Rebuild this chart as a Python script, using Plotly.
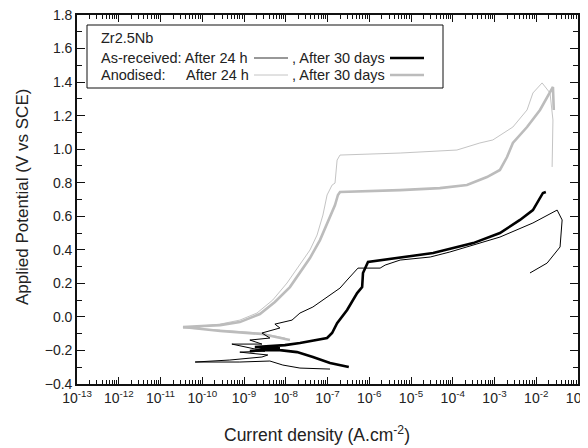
import numpy as np
import plotly.graph_objects as go

# ---- data (log10 current density, potential V vs SCE) ----
anod_24h_logi = [-8.02, -8.62, -9.57, -10.46, -9.57, -9.10, -8.69, -8.31, -7.97, -7.66, -7.42,
                 -7.25, -7.11, -7.01, -6.89, -6.82, -6.77, -6.70, -5.26, -3.90, -3.35, -3.04,
                 -2.56, -2.22, -2.08, -1.86, -1.67, -1.60, -1.62]
anod_24h_v = [-0.126, -0.096, -0.078, -0.066, -0.043, -0.019, 0.023, 0.101, 0.202, 0.309, 0.399,
              0.488, 0.607, 0.727, 0.786, 0.798, 0.935, 0.965, 0.977, 0.995, 1.037, 1.055,
              1.132, 1.234, 1.335, 1.395, 1.335, 1.174, 0.894]

anod_30d_logi = [-7.90, -8.57, -9.57, -10.46, -9.57, -9.10, -8.62, -8.26, -7.90, -7.66, -7.42,
                 -7.18, -6.99, -6.82, -6.75, -6.70, -5.26, -4.31, -3.66, -3.18, -2.87, -2.70,
                 -2.56, -2.22, -1.91, -1.67, -1.60, -1.58]
anod_30d_v = [-0.138, -0.102, -0.084, -0.060, -0.049, -0.031, 0.017, 0.089, 0.178, 0.267, 0.351,
              0.458, 0.566, 0.667, 0.727, 0.745, 0.756, 0.768, 0.786, 0.834, 0.876, 0.953,
              1.037, 1.132, 1.234, 1.335, 1.371, 1.234]

asr_24h_logi = [-6.94, -7.66, -8.07, -8.38, -9.10, -10.17, -9.34, -8.57, -8.43, -9.10, -8.50,
                -9.29, -8.57, -8.86, -8.38, -8.57, -8.14, -8.26, -7.85, -7.66, -7.35, -7.18,
                -6.87, -6.70, -6.53, -6.27, -5.74, -5.62, -5.26, -4.54, -4.07, -3.51, -2.87,
                -2.08, -1.50, -1.38, -1.43, -1.74, -2.15]
asr_24h_v = [-0.311, -0.305, -0.287, -0.263, -0.269, -0.269, -0.257, -0.239, -0.227, -0.210, -0.204,
             -0.162, -0.162, -0.138, -0.126, -0.096, -0.066, -0.043, -0.019, 0.023, 0.059, 0.089,
             0.142, 0.172, 0.220, 0.291, 0.291, 0.309, 0.339, 0.357, 0.387, 0.428, 0.476,
             0.560, 0.637, 0.578, 0.417, 0.321, 0.262]

asr_30d_logi = [-6.49, -6.94, -7.35, -7.73, -8.14, -8.57, -8.86, -8.14, -8.74, -8.02, -7.66,
                -7.30, -7.01, -6.89, -6.77, -6.53, -6.29, -6.17, -6.15, -6.03, -5.67, -4.47,
                -3.51, -2.87, -2.39, -2.08, -1.84, -1.77]
asr_30d_v = [-0.299, -0.275, -0.239, -0.210, -0.198, -0.198, -0.204, -0.186, -0.180, -0.168, -0.156,
             -0.138, -0.126, -0.096, -0.037, 0.041, 0.142, 0.178, 0.262, 0.327, 0.339, 0.381,
             0.440, 0.500, 0.578, 0.637, 0.739, 0.745]

x_decades = list(range(-13, 0))
x_tick_labels = [f"10<sup>{d}</sup>" for d in x_decades]
y_ticks = [-0.4, -0.2, 0.0, 0.2, 0.4, 0.6, 0.8, 1.0, 1.2, 1.4, 1.6, 1.8]
y_tick_labels = [f"{v:.1f}".replace("-", "\u2212") for v in y_ticks]

FONT = "Liberation Sans, Arial, sans-serif"
GRAY_THIN = "#c4c4c4"
GRAY_THICK = "#bcbcbc"

fig = go.Figure()
series = [
    (anod_24h_logi, anod_24h_v, GRAY_THIN, 1.0),
    (anod_30d_logi, anod_30d_v, GRAY_THICK, 2.6),
    (asr_24h_logi, asr_24h_v, "#000000", 1.0),
    (asr_30d_logi, asr_30d_v, "#000000", 2.6),
]
for lx, vy, col, w in series:
    fig.add_trace(go.Scatter(x=10 ** np.array(lx), y=vy, mode="lines",
                             line=dict(color=col, width=w), showlegend=False))

minor_x = [k * 10.0 ** d for d in range(-13, -1) for k in range(2, 10)]

fig.update_xaxes(type="log", range=[-13, -1], automargin=False, ticklabeloverflow="allow",
                 tickvals=[10.0 ** d for d in x_decades], ticktext=x_tick_labels,
                 ticks="inside", ticklen=7, tickwidth=1, tickcolor="#111",
                 minor=dict(tickvals=minor_x, ticks="inside", ticklen=4, tickcolor="#111"),
                 showline=True, linecolor="#111", linewidth=1.6, mirror="ticks",
                 showgrid=False, zeroline=False,
                 tickfont=dict(family=FONT, size=14, color="#222"))
fig.update_yaxes(range=[-0.4, 1.8], tickvals=y_ticks, ticktext=y_tick_labels,
                 automargin=False, ticklabeloverflow="allow",
                 ticks="inside", ticklen=8, tickwidth=1, tickcolor="#111",
                 minor=dict(dtick=0.1, ticks="inside", ticklen=5, tickcolor="#111"),
                 showline=True, linecolor="#111", linewidth=1.6, mirror="ticks",
                 showgrid=False, zeroline=False,
                 tickfont=dict(family=FONT, size=14, color="#222"))

# ---- page offset (the page body adds ~8 px) ----
OFF = 8
W, H = 588 - OFF, 448 - OFF
# plot area in window pixels
L, R, T, B = 77, 578, 15, 384
def px(x):
    return (x - L) / (R - L)
def py(y):
    return (B - y) / (B - T)

shapes = [dict(type="rect", xref="paper", yref="paper", x0=px(87), x1=px(443),
               y0=py(88), y1=py(25), line=dict(color="#111", width=1), fillcolor="white")]
samples = [(254, 288, 58, "#333", 1.2), (390, 424, 58, "#000", 2.6),
           (254, 288, 75, GRAY_THIN, 1.0), (390, 424, 75, GRAY_THICK, 2.6)]
for x0, x1, yy, col, w in samples:
    shapes.append(dict(type="line", xref="paper", yref="paper", x0=px(x0), x1=px(x1),
                       y0=py(yy), y1=py(yy), line=dict(color=col, width=w)))

LEG = 14.5
texts = [(99, 38, "Zr2.5Nb", "left"),
         (99, 58, "As-received: After 24 h", "left"),
         (99, 75, "Anodised:", "left"),
         (251, 75, "After 24 h", "right"),
         (290, 58, ", After 30 days", "left"),
         (290, 75, ", After 30 days", "left")]
annotations = [dict(xref="paper", yref="paper", x=px(x), y=py(y), text=t, showarrow=False,
                    xanchor=a, yanchor="middle", font=dict(family=FONT, size=LEG, color="#222"))
               for x, y, t, a in texts]
annotations.append(dict(xref="paper", yref="paper", x=px(317), y=py(434),
                        text="Current density (A.cm<sup>-2</sup>)", showarrow=False,
                        xanchor="center", yanchor="middle",
                        font=dict(family=FONT, size=17.5, color="#222")))
annotations.append(dict(xref="paper", yref="paper", x=px(22), y=py(197),
                        text="Applied Potential (V vs SCE)", showarrow=False, textangle=-90,
                        xanchor="center", yanchor="middle",
                        font=dict(family=FONT, size=17, color="#222")))

fig.update_layout(width=W, height=H,
                  margin=dict(l=L - OFF, r=588 - R, t=T - OFF, b=448 - B),
                  paper_bgcolor="white", plot_bgcolor="white",
                  shapes=shapes, annotations=annotations)

fig.write_html("out.html")
